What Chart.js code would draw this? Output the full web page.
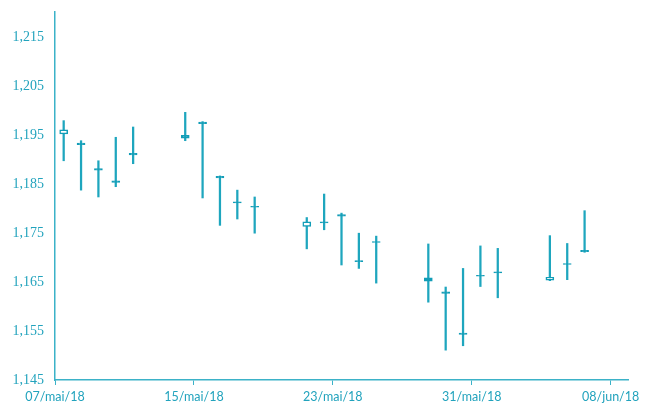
<!DOCTYPE html>
<html lang="pt">
<head>
<meta charset="UTF-8">
<title>Candles</title>
<script src="https://cdn.jsdelivr.net/npm/chart.js"></script>
<style>
  html, body { margin: 0; padding: 0; background: #fff; }
  .box { width: 647px; height: 405px; }
</style>
</head>
<body>
<div class="box"><canvas id="grafico"></canvas></div>
<script>
// dias de negociação (dd/mm/2018)
var dias = ['07/05', '08/05', '09/05', '10/05', '11/05', '14/05', '15/05', '16/05', '17/05', '18/05',
            '21/05', '22/05', '23/05', '24/05', '25/05', '28/05', '29/05', '30/05', '31/05', '01/06',
            '04/06', '05/06', '06/06'];
var abertura = [1.1953, 1.1934, 1.1882, 1.1857, 1.1913, 1.1950, 1.1977, 1.1866, 1.1814, 1.1805,
                1.1764, 1.1773, 1.1788, 1.1694, 1.1733, 1.1659, 1.1630, 1.1546, 1.1664, 1.1671,
                1.1654, 1.1688, 1.1715];
var maxima = [1.1980, 1.1939, 1.1898, 1.1946, 1.1967, 1.1997, 1.1978, 1.1867, 1.1838, 1.1824,
              1.1782, 1.1830, 1.1791, 1.1750, 1.1744, 1.1728, 1.1640, 1.1678, 1.1724, 1.1719,
              1.1745, 1.1729, 1.1796];
var minima = [1.1898, 1.1838, 1.1824, 1.1845, 1.1892, 1.1939, 1.1822, 1.1766, 1.1779, 1.1750,
              1.1718, 1.1757, 1.1685, 1.1678, 1.1648, 1.1609, 1.1511, 1.1520, 1.1641, 1.1618,
              1.1653, 1.1655, 1.1711];
var fechamento = [1.1961, 1.1931, 1.1879, 1.1854, 1.1910, 1.1944, 1.1974, 1.1863, 1.1812, 1.1803,
                  1.1773, 1.1771, 1.1785, 1.1692, 1.1731, 1.1652, 1.1627, 1.1543, 1.1662, 1.1669,
                  1.1660, 1.1686, 1.1712];

var rotulosX = ['07/mai/18', '15/mai/18', '23/mai/18', '31/mai/18', '08/jun/18'];
var posRotulosX = [0, 8, 16, 24, 32];
var ticksY = [1.145, 1.155, 1.165, 1.175, 1.185, 1.195, 1.205, 1.215];

var corTexto = '#22a3bd';
var corEixo = '#3bb2c8';
var corVela = '#129db7';

// dia contado a partir de 07/mai, com a vela no meio do dia
var inicio = Date.UTC(2018, 4, 7);
function posicao(d) {
    var p = d.split('/');
    var t = Date.UTC(2018, parseInt(p[1]) - 1, parseInt(p[0]));
    return (t - inicio) / 86400000 + 0.5;
}

var pavios = [];
var corpos = [];
var fundos = [];
for (var i = 0; i < dias.length; i++) {
    var x = posicao(dias[i]);
    pavios.push({ x: x, y: [minima[i], maxima[i]] });
    corpos.push({ x: x, y: [abertura[i], fechamento[i]] });
    fundos.push(fechamento[i] > abertura[i] ? '#ffffff' : corVela);
}

new Chart(document.getElementById('grafico'), {
    type: 'bar',
    data: {
        datasets: [
            {
                label: 'corpo',
                data: corpos,
                backgroundColor: fundos,
                borderColor: corVela,
                borderWidth: 1.5,
                borderSkipped: false,
                barThickness: 8,
                grouped: false,
                order: 0
            },
            {
                label: 'pavio',
                data: pavios,
                backgroundColor: '#1ea6be',
                borderWidth: 0,
                barThickness: 1.6,
                grouped: false,
                order: 1
            }
        ]
    },
    options: {
        responsive: true,
        maintainAspectRatio: false,
        animation: false,
        layout: { padding: { top: 12, right: 19, left: 0, bottom: 0 } },
        plugins: {
            legend: { display: false },
            tooltip: { enabled: false }
        },
        scales: {
            x: {
                type: 'linear',
                min: 0,
                max: 33,
                offset: false,
                afterBuildTicks: function (scale) {
                    scale.ticks = posRotulosX.map(function (v) { return { value: v }; });
                },
                afterFit: function (scale) { scale.height = 25; },
                ticks: {
                    autoSkip: false,
                    maxRotation: 0,
                    padding: 4,
                    color: corTexto,
                    font: { family: 'Lato', size: 12.5 },
                    callback: function (v, idx) { return rotulosX[idx]; }
                },
                grid: {
                    offset: false,
                    drawOnChartArea: false,
                    tickLength: 5,
                    color: corEixo
                },
                border: { display: true, color: corEixo, width: 1.5 }
            },
            y: {
                min: 1.145,
                max: 1.2202,
                afterBuildTicks: function (scale) {
                    scale.ticks = ticksY.map(function (v) { return { value: v }; });
                },
                afterFit: function (scale) {
                    scale.width = 55;
                    scale.paddingTop = 0;
                    scale.paddingBottom = 0;
                },
                ticks: {
                    padding: 11,
                    color: corTexto,
                    font: { family: 'Liberation Serif', size: 14 },
                    callback: function (v) { return v.toFixed(3).replace('.', ','); }
                },
                grid: { drawOnChartArea: false, drawTicks: false },
                border: { display: true, color: corEixo, width: 1.5 }
            }
        }
    }
});
</script>
</body>
</html>
